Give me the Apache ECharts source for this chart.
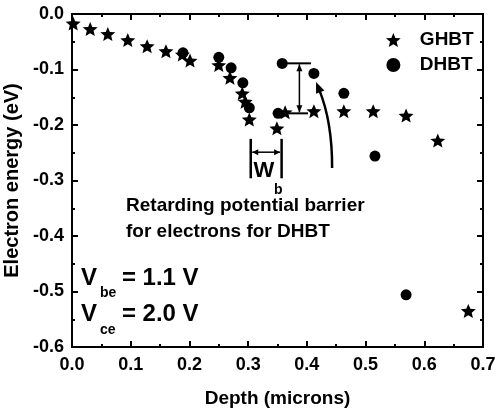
<!DOCTYPE html>
<html>
<head>
<meta charset="utf-8">
<script src="https://cdn.jsdelivr.net/npm/echarts@6/dist/echarts.min.js"></script>
<style>
  html, body { margin: 0; padding: 0; background: #fff; }
  #main { width: 495px; height: 411px; }
</style>
</head>
<body>
<div id="main"></div>
<script>
// GHBT (stars) and DHBT (dots): [depth (microns), electron energy (eV)]
const ghbt = [
  [0.002, -0.017], [0.031, -0.027], [0.061, -0.036], [0.095, -0.047],
  [0.128, -0.058], [0.160, -0.067], [0.188, -0.073], [0.201, -0.084],
  [0.250, -0.092], [0.269, -0.115], [0.290, -0.143], [0.295, -0.158],
  [0.302, -0.190], [0.349, -0.206], [0.363, -0.177], [0.412, -0.175],
  [0.463, -0.175], [0.513, -0.175], [0.569, -0.183], [0.623, -0.228],
  [0.675, -0.535]
]
const dhbt = [
  [0.189, -0.070], [0.250, -0.078], [0.271, -0.097], [0.291, -0.124],
  [0.302, -0.169], [0.351, -0.179], [0.358, -0.089], [0.412, -0.107],
  [0.463, -0.143], [0.516, -0.256], [0.569, -0.506]
]
const seriesNames = ['GHBT', 'DHBT']

const FONT = '"Liberation Sans", Arial, sans-serif'
const STAR = 'path://M0,-10L2.645,-3.64L9.51,-3.09L4.28,1.39L5.88,8.09L0,4.5L-5.88,8.09L-4.28,1.39L-9.51,-3.09L-2.645,-3.64Z'

let chart = echarts.init(document.querySelector('#main'))

// shared look for the four frame axes
function frameAxis(extra) {
  return Object.assign({
    type: 'value',
    axisLine: { show: true, onZero: false, lineStyle: { color: '#000', width: 2 } },
    axisTick: { show: true, inside: true, length: 6, lineStyle: { color: '#000', width: 2 } },
    minorTick: { show: true, splitNumber: 2, length: 3, lineStyle: { color: '#000', width: 2 } },
    splitLine: { show: false },
    minorSplitLine: { show: false }
  }, extra)
}

let option = {
  animation: false,
  grid: { left: 72, right: 12, top: 14, bottom: 64, containLabel: false, outerBoundsMode: 'none' },
  legend: {
    orient: 'vertical',
    left: 381,
    top: 25,
    itemWidth: 15,
    itemHeight: 14,
    itemGap: 5,
    textStyle: { fontFamily: FONT, fontWeight: 'bold', fontSize: 19, color: '#000', padding: [0, 0, 0, 14], lineHeight: 20 },
    data: [
      { name: seriesNames[0], icon: STAR },
      { name: seriesNames[1], icon: 'circle' }
    ]
  },
  xAxis: [
    frameAxis({
      min: 0, max: 0.7, interval: 0.1,
      name: 'Depth (microns)',
      nameLocation: 'middle',
      nameGap: 42,
      nameTextStyle: { fontFamily: FONT, fontWeight: 'bold', fontSize: 19, color: '#000' },
      axisLabel: { margin: 9, fontFamily: FONT, fontWeight: 'bold', fontSize: 18, color: '#000',
        formatter: v => v.toFixed(1) }
    }),
    frameAxis({ min: 0, max: 0.7, interval: 0.1, position: 'top', axisLabel: { show: false } })
  ],
  yAxis: [
    frameAxis({
      min: -0.6, max: 0, interval: 0.1,
      name: 'Electron energy (eV)',
      nameLocation: 'middle',
      nameRotate: 90,
      nameGap: 45,
      nameTextStyle: { fontFamily: FONT, fontWeight: 'bold', fontSize: 20, color: '#000' },
      axisLabel: { margin: 8, fontFamily: FONT, fontWeight: 'bold', fontSize: 18, color: '#000',
        formatter: v => v.toFixed(1) }
    }),
    frameAxis({ min: -0.6, max: 0, interval: 0.1, position: 'right', axisLabel: { show: false } })
  ],
  series: [
    {
      type: 'scatter',
      name: seriesNames[0],
      symbol: STAR,
      symbolSize: [15, 14],
      itemStyle: { color: '#000', opacity: 1 },
      data: ghbt
    },
    {
      type: 'scatter',
      name: seriesNames[1],
      symbol: 'circle',
      symbolSize: 11,
      itemStyle: { color: '#000', opacity: 1 },
      data: dhbt
    }
  ]
}
chart.setOption(option)

// annotations, placed in data coordinates
function px(p) {
  return chart.convertToPixel({ xAxisIndex: 0, yAxisIndex: 0 }, p)
}
function line(a, b, w) {
  return { type: 'line', shape: { x1: a[0], y1: a[1], x2: b[0], y2: b[1] }, style: { stroke: '#000', lineWidth: w } }
}
// arrowhead with its tip at `tip`, pointing away from `from`
function head(tip, from, len, half) {
  let dx = tip[0] - from[0], dy = tip[1] - from[1]
  let d = Math.sqrt(dx * dx + dy * dy)
  dx /= d; dy /= d
  let bx = tip[0] - dx * len, by = tip[1] - dy * len
  return {
    type: 'polygon',
    shape: { points: [tip, [bx - dy * half, by + dx * half], [bx + dy * half, by - dx * half]] },
    style: { fill: '#000' }
  }
}
function txt(p, text, size, align) {
  return {
    type: 'text', x: p[0], y: p[1],
    style: { text: text, fill: '#000', font: 'bold ' + size + 'px ' + FONT, align: align || 'left', verticalAlign: 'middle' }
  }
}

let g = []
// W_b bracket
let wl0 = px([0.3044, -0.225]), wl1 = px([0.3044, -0.296])
let wr0 = px([0.357, -0.225]), wr1 = px([0.357, -0.296])
g.push(line(wl0, wl1, 2.5), line(wr0, wr1, 2.5))
let ha = px([0.3044, -0.249]), hb = px([0.357, -0.249])
ha[0] += 1.5; hb[0] -= 1.5
g.push(line(ha, hb, 1.5), head(ha, hb, 6, 3), head(hb, ha, 6, 3))
g.push(txt(px([0.327, -0.282]), 'W', 22, 'center'))
g.push(txt(px([0.3515, -0.318]), 'b', 14, 'center'))

// barrier height arrow
g.push(line(px([0.366, -0.0889]), px([0.407, -0.0889]), 2))
g.push(line(px([0.359, -0.179]), px([0.402, -0.179]), 2))
let va = px([0.3873, -0.0889]), vb = px([0.3873, -0.179])
va[1] += 1; vb[1] -= 1
g.push(line(va, vb, 1.5), head(va, vb, 7, 3), head(vb, va, 7, 3))

// curved arrow
let c0 = px([0.443, -0.2775]), cc = px([0.4434, -0.1946]), c1 = px([0.4157, -0.1225])
let cdx = c1[0] - cc[0], cdy = c1[1] - cc[1], cd = Math.sqrt(cdx * cdx + cdy * cdy)
let cEnd = [c1[0] - cdx / cd * 8, c1[1] - cdy / cd * 8]
g.push({
  type: 'bezierCurve',
  shape: { x1: c0[0], y1: c0[1], x2: cEnd[0], y2: cEnd[1], cpx1: cc[0], cpy1: cc[1] },
  style: { stroke: '#000', lineWidth: 2.5, fill: null }
})
g.push(head(c1, cc, 11, 4.5))

// text notes
g.push(txt(px([0.092, -0.346]), 'Retarding potential barrier', 19))
g.push(txt(px([0.092, -0.393]), 'for electrons for DHBT', 19))
g.push(txt(px([0.0153, -0.476]), 'V', 24))
g.push(txt(px([0.0477, -0.503]), 'be', 14))
g.push(txt(px([0.085, -0.476]), '= 1.1 V', 24))
g.push(txt(px([0.0153, -0.542]), 'V', 24))
g.push(txt(px([0.0477, -0.569]), 'ce', 14))
g.push(txt(px([0.085, -0.542]), '= 2.0 V', 24))

chart.setOption({ graphic: g })
</script>
</body>
</html>
